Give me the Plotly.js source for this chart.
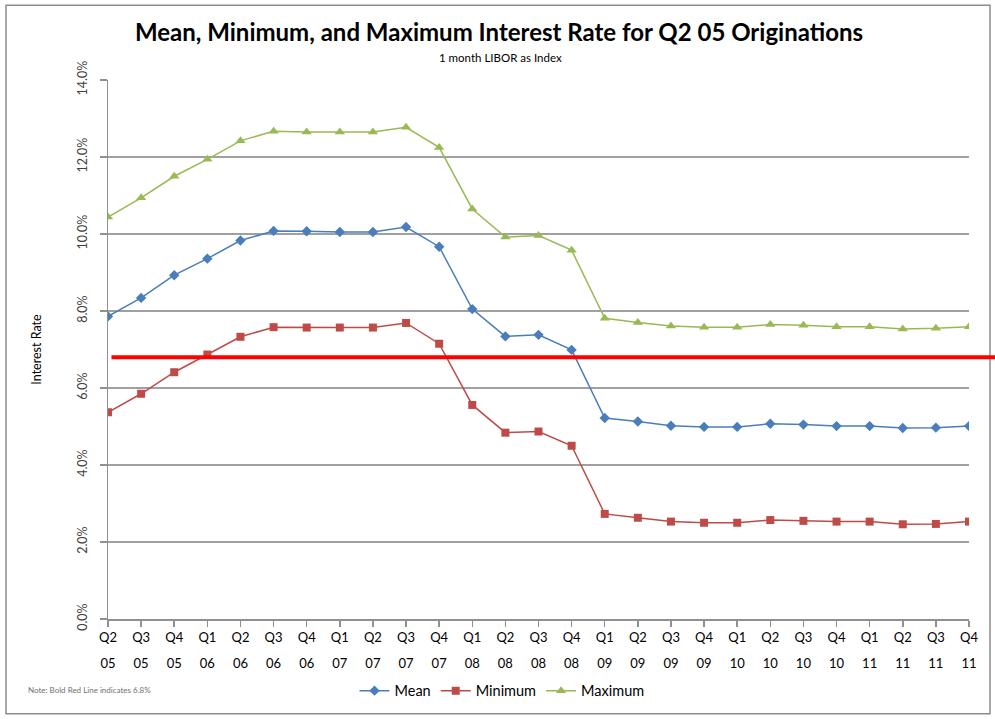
<!DOCTYPE html>
<html>
<head>
<meta charset="utf-8">
<script src="https://cdn.plot.ly/plotly-3.0.1.min.js"></script>
<style>html,body{margin:0;padding:0;background:#fff;}#chart{width:995px;height:719px;}</style>
</head>
<body>
<div id="chart"></div>
<script>
const quarters = ['Q2','Q3','Q4','Q1','Q2','Q3','Q4','Q1','Q2','Q3','Q4','Q1','Q2','Q3','Q4','Q1','Q2','Q3','Q4','Q1','Q2','Q3','Q4','Q1','Q2','Q3','Q4'];
const years = ['05','05','05','06','06','06','06','07','07','07','07','08','08','08','08','09','09','09','09','10','10','10','10','11','11','11','11'];
const meanRate = [7.86, 8.34, 8.93, 9.36, 9.83, 10.08, 10.07, 10.05, 10.05, 10.18, 9.67, 8.05, 7.34, 7.38, 6.99, 5.22, 5.13, 5.02, 4.99, 4.99, 5.07, 5.05, 5.01, 5.01, 4.96, 4.97, 5.01];
const minRate = [5.37, 5.85, 6.41, 6.87, 7.33, 7.58, 7.57, 7.57, 7.57, 7.69, 7.15, 5.56, 4.84, 4.87, 4.50, 2.73, 2.63, 2.53, 2.50, 2.50, 2.57, 2.55, 2.53, 2.53, 2.46, 2.47, 2.53];
const maxRate = [10.44, 10.94, 11.50, 11.94, 12.42, 12.67, 12.65, 12.65, 12.65, 12.77, 12.25, 10.65, 9.92, 9.96, 9.58, 7.81, 7.70, 7.61, 7.58, 7.58, 7.65, 7.63, 7.59, 7.59, 7.53, 7.55, 7.59];
const thresholdRate = 6.8;
const yTicks = [0, 2, 4, 6, 8, 10, 12, 14];
const yTickLabels = ['0.0%', '2.0%', '4.0%', '6.0%', '8.0%', '10.0%', '12.0%', '14.0%'];

const idx = quarters.map((q, i) => i);
const FONT = 'Lato, "Open Sans", sans-serif';

const traces = [
  {x: idx, y: meanRate, name: 'Mean', type: 'scatter', mode: 'lines+markers',
   line: {color: '#4A7EBB', width: 1.5}, marker: {symbol: 'diamond', size: 8, color: '#4A7EBB'}},
  {x: idx, y: minRate, name: 'Minimum', type: 'scatter', mode: 'lines+markers',
   line: {color: '#BE4B48', width: 1.5}, marker: {symbol: 'square', size: 8, color: '#BE4B48'}},
  {x: idx, y: maxRate, name: 'Maximum', type: 'scatter', mode: 'lines+markers', xaxis: 'x2',
   line: {color: '#98B954', width: 1.5}, marker: {symbol: 'triangle-up', size: 9, color: '#98B954'}}
];

const layout = {
  width: 995, height: 719,
  margin: {l: 108, r: 26, t: 80, b: 98},
  paper_bgcolor: '#ffffff', plot_bgcolor: 'rgba(0,0,0,0)',
  font: {family: FONT, color: '#000'},
  showlegend: true,
  legend: {orientation: 'h', x: (502 - 108) / 861, xanchor: 'center', y: (621 - 693) / 541, yanchor: 'middle',
           font: {size: 14.5, family: FONT, color: '#000'}, itemwidth: 30, traceorder: 'normal'},
  xaxis: {range: [0, 26], tickvals: idx, ticktext: quarters, showgrid: false, zeroline: false,
          showline: true, linecolor: '#909090', linewidth: 1.5, ticks: 'outside', ticklen: 6,
          tickcolor: '#909090', tickwidth: 1.5, tickfont: {size: 13, family: FONT, color: '#000'}, tickangle: 0},
  xaxis2: {range: [0, 26], overlaying: 'x', anchor: 'y', side: 'bottom', tickvals: idx, ticktext: years,
           showgrid: false, zeroline: false, showline: false, ticks: 'outside', ticklen: 32,
           tickcolor: 'rgba(0,0,0,0)', tickwidth: 1,
           tickfont: {size: 13, family: FONT, color: '#000'}, tickangle: 0},
  yaxis: {range: [0, 14], tickvals: yTicks, ticktext: yTickLabels, showgrid: true,
          gridcolor: '#A0A0A0', gridwidth: 1.5, zeroline: false, showline: true, linecolor: '#909090',
          linewidth: 1.5, ticks: 'outside', ticklen: 7, tickcolor: '#909090', tickwidth: 1.5,
          ticklabelstandoff: 8,
          tickangle: -90, tickfont: {size: 12.5, family: FONT, color: '#404040'},
          title: {text: 'Interest Rate', font: {size: 12.5, family: FONT, color: '#000'}, standoff: 30}},
  title: {text: '<b>Mean, Minimum, and Maximum Interest Rate for Q2 05 Originations</b>',
          font: {size: 24, family: FONT, color: '#000'}, x: (499 - 108) / 861, xanchor: 'center', y: 0.954, yanchor: 'middle', xref: 'paper'},
  shapes: [
    {type: 'line', xref: 'paper', yref: 'y', x0: 0.004, x1: 1.035, y0: thresholdRate, y1: thresholdRate,
     line: {color: '#FF0000', width: 4}, layer: 'above'},
    {type: 'rect', xref: 'paper', yref: 'paper', x0: (6 - 108) / 861, x1: (990 - 108) / 861,
     y0: (621 - 716) / 541, y1: (621 - 5) / 541, line: {color: '#8C8C8C', width: 1.5}, fillcolor: 'rgba(0,0,0,0)', layer: 'below'}
  ],
  annotations: [
    {text: '1 month LIBOR as Index', xref: 'paper', yref: 'paper', x: (500 - 108) / 861, y: (621 - 57) / 541,
     xanchor: 'center', yanchor: 'middle', showarrow: false, font: {size: 11.5, family: FONT, color: '#000'}},
    {text: 'Note: Bold Red Line indicates 6.8%', xref: 'paper', yref: 'paper', x: (26 - 108) / 861, y: (621 - 692) / 541,
     xanchor: 'left', yanchor: 'middle', showarrow: false, font: {size: 8, family: FONT, color: '#707070'}}
  ]
};

Plotly.newPlot('chart', traces, layout, {displayModeBar: false, staticPlot: true});
</script>
</body>
</html>
